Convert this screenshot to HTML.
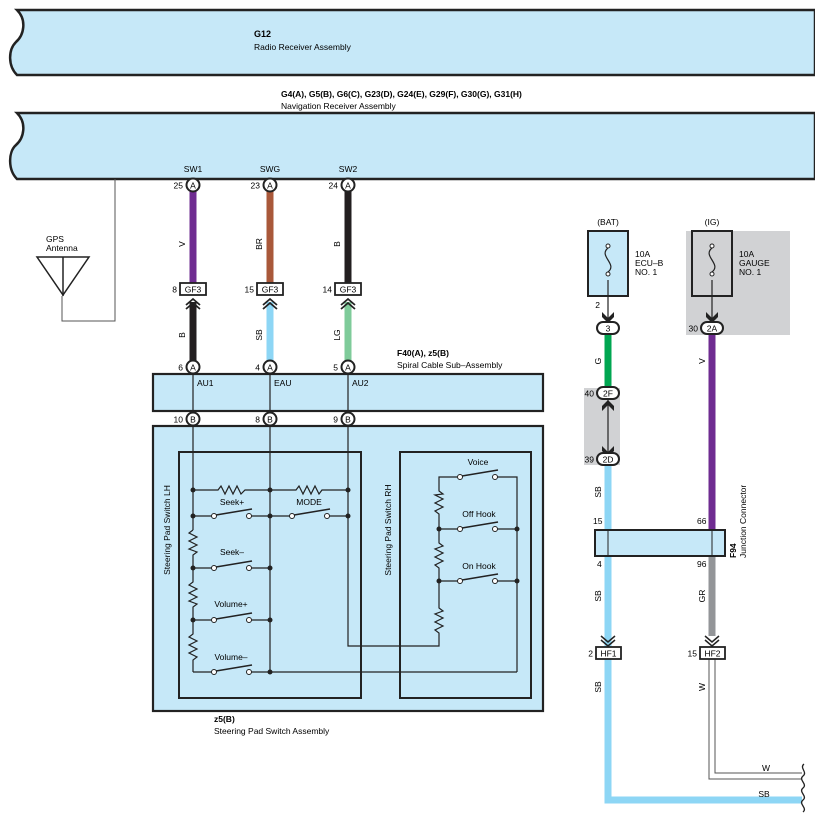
<!DOCTYPE html>
<html><head><meta charset="utf-8"><style>
html,body{margin:0;padding:0;background:#fff;}
svg{display:block;font-family:"Liberation Sans",Arial,sans-serif;}
</style></head><body>
<svg width="815" height="824" viewBox="0 0 815 824" xmlns="http://www.w3.org/2000/svg">
<!-- Top bars -->
<path d="M17,10 L815,10 L815,75 L17,75 C8,66 8,50 16,42 C24,35 27,20 17,10 Z" fill="#c6e8f8" stroke="#222" stroke-width="2.5"/>
<text x="254" y="37" font-size="9" font-weight="bold">G12</text>
<text x="254" y="50" font-size="8.5">Radio Receiver Assembly</text>
<text x="281" y="97" font-size="8.5" font-weight="bold">G4(A), G5(B), G6(C), G23(D), G24(E), G29(F), G30(G), G31(H)</text>
<text x="281" y="109" font-size="8.5">Navigation Receiver Assembly</text>
<path d="M17,113 L815,113 L815,179 L17,179 C8,170 8,152 16,145 C24,138 27,123 17,113 Z" fill="#c6e8f8" stroke="#222" stroke-width="2.5"/>

<!-- GPS antenna -->
<polyline points="115,179 115,321 62,321 62,296" fill="none" stroke="#555" stroke-width="1"/>
<polygon points="37,257 89,257 63,295" fill="none" stroke="#222" stroke-width="1.5"/>
<line x1="63" y1="257" x2="63" y2="296" stroke="#222" stroke-width="1.5"/>
<text x="46" y="242" font-size="8.5">GPS</text>
<text x="46" y="251" font-size="8.5">Antenna</text>

<!-- Wires upper -->
<text x="193" y="172" font-size="8.5" text-anchor="middle">SW1</text>
<text x="270" y="172" font-size="8.5" text-anchor="middle">SWG</text>
<text x="348" y="172" font-size="8.5" text-anchor="middle">SW2</text>
<line x1="193" y1="190" x2="193" y2="283" stroke="#6f2c91" stroke-width="7"/>
<line x1="270" y1="190" x2="270" y2="283" stroke="#a9583a" stroke-width="7"/>
<line x1="348" y1="190" x2="348" y2="283" stroke="#231f20" stroke-width="7"/>
<line x1="193" y1="302" x2="193" y2="362" stroke="#231f20" stroke-width="7"/>
<line x1="270" y1="302" x2="270" y2="362" stroke="#8dd6f5" stroke-width="7"/>
<line x1="348" y1="302" x2="348" y2="362" stroke="#7fcb9a" stroke-width="7"/>
<g font-size="8.5" text-anchor="middle">
<text transform="translate(185,244) rotate(-90)">V</text>
<text transform="translate(262,244) rotate(-90)">BR</text>
<text transform="translate(340,244) rotate(-90)">B</text>
<text transform="translate(185,335) rotate(-90)">B</text>
<text transform="translate(262,335) rotate(-90)">SB</text>
<text transform="translate(340,335) rotate(-90)">LG</text>
</g>
<g stroke="#222" stroke-width="1.8" fill="none">
<polyline points="186,305 193,299 200,305"/><polyline points="186,309 193,303 200,309"/>
<polyline points="263,305 270,299 277,305"/><polyline points="263,309 270,303 277,309"/>
<polyline points="341,305 348,299 355,305"/><polyline points="341,309 348,303 355,309"/>
</g>
<g font-size="8.5">
<rect x="180" y="283" width="26" height="12" fill="#fff" stroke="#222" stroke-width="1.8"/><text x="193" y="292.5" text-anchor="middle">GF3</text><text x="177" y="292.5" text-anchor="end">8</text>
<rect x="257" y="283" width="26" height="12" fill="#fff" stroke="#222" stroke-width="1.8"/><text x="270" y="292.5" text-anchor="middle">GF3</text><text x="254" y="292.5" text-anchor="end">15</text>
<rect x="335" y="283" width="26" height="12" fill="#fff" stroke="#222" stroke-width="1.8"/><text x="348" y="292.5" text-anchor="middle">GF3</text><text x="332" y="292.5" text-anchor="end">14</text>
</g>

<!-- Spiral cable -->
<rect x="153" y="374" width="390" height="37" fill="#c6e8f8" stroke="#222" stroke-width="2.2"/>
<text x="397" y="356" font-size="8.5" font-weight="bold">F40(A), z5(B)</text>
<text x="397" y="368" font-size="8.5">Spiral Cable Sub–Assembly</text>
<g font-size="8.5"><text x="197" y="386">AU1</text><text x="274" y="386">EAU</text><text x="352" y="386">AU2</text></g>

<!-- Steering pad -->
<rect x="153" y="426" width="390" height="285" fill="#c6e8f8" stroke="#222" stroke-width="2.2"/>
<rect x="179" y="452" width="182" height="246" fill="none" stroke="#222" stroke-width="2"/>
<rect x="400" y="452" width="131" height="246" fill="none" stroke="#222" stroke-width="2"/>
<text transform="translate(170,530) rotate(-90)" font-size="8.5" text-anchor="middle">Steering Pad Switch LH</text>
<text transform="translate(391,530) rotate(-90)" font-size="8.5" text-anchor="middle">Steering Pad Switch RH</text>
<text x="214" y="722" font-size="8.5" font-weight="bold">z5(B)</text>
<text x="214" y="734" font-size="8.5">Steering Pad Switch Assembly</text>

<g stroke="#222" stroke-width="1.2" fill="none">
<line x1="193" y1="367" x2="193" y2="530"/>
<polyline points="193,530 189,533 197,537 189,541 197,545 189,549 197,552 193,555 193,582 189,585 197,589 189,593 197,597 189,601 197,604 193,607 193,634 189,637 197,641 189,645 197,649 189,653 197,657 193,660 193,672"/>
<line x1="270" y1="367" x2="270" y2="672"/>
<polyline points="348,367 348,646 439,646 439,633 435,630 443,626 435,622 443,618 435,614 443,611 439,608 439,568 435,565 443,561 435,557 443,553 435,549 443,546 439,543 439,514 435,511 443,507 435,503 443,499 435,495 443,494 439,491 439,477 457,477"/>
<polyline points="193,490 218,490 221,486 225,494 229,486 233,494 237,486 241,494 245,490 270,490 296,490 299,486 303,494 307,486 311,494 315,486 319,494 322,490 348,490"/>
<line x1="193" y1="516" x2="211.5" y2="516"/><line x1="251.5" y1="516" x2="289.5" y2="516"/><line x1="329.5" y1="516" x2="348" y2="516"/>
<line x1="193" y1="568" x2="211.5" y2="568"/><line x1="251.5" y1="568" x2="270" y2="568"/>
<line x1="193" y1="620" x2="211.5" y2="620"/><line x1="251.5" y1="620" x2="270" y2="620"/>
<line x1="193" y1="672" x2="211.5" y2="672"/><line x1="251.5" y1="672" x2="517" y2="672"/>
<polyline points="497.5,477 517,477 517,672"/>
<line x1="439" y1="529" x2="457.5" y2="529"/><line x1="497.5" y1="529" x2="517" y2="529"/>
<line x1="439" y1="581" x2="457.5" y2="581"/><line x1="497.5" y1="581" x2="517" y2="581"/>
<line x1="216" y1="515" x2="252" y2="509" stroke-width="1.6"/>
<line x1="294" y1="515" x2="330" y2="509" stroke-width="1.6"/>
<line x1="216" y1="567" x2="252" y2="561" stroke-width="1.6"/>
<line x1="216" y1="619" x2="252" y2="613" stroke-width="1.6"/>
<line x1="216" y1="671" x2="252" y2="665" stroke-width="1.6"/>
<line x1="462" y1="476" x2="498" y2="470" stroke-width="1.6"/>
<line x1="462" y1="528" x2="498" y2="522" stroke-width="1.6"/>
<line x1="462" y1="580" x2="498" y2="574" stroke-width="1.6"/>
</g>
<g fill="#fff" stroke="#222" stroke-width="1">
<circle cx="214" cy="516" r="2.5"/><circle cx="249" cy="516" r="2.5"/>
<circle cx="292" cy="516" r="2.5"/><circle cx="327" cy="516" r="2.5"/>
<circle cx="214" cy="568" r="2.5"/><circle cx="249" cy="568" r="2.5"/>
<circle cx="214" cy="620" r="2.5"/><circle cx="249" cy="620" r="2.5"/>
<circle cx="214" cy="672" r="2.5"/><circle cx="249" cy="672" r="2.5"/>
<circle cx="460" cy="477" r="2.5"/><circle cx="495" cy="477" r="2.5"/>
<circle cx="460" cy="529" r="2.5"/><circle cx="495" cy="529" r="2.5"/>
<circle cx="460" cy="581" r="2.5"/><circle cx="495" cy="581" r="2.5"/>
</g>
<g fill="#222">
<circle cx="193" cy="490" r="2.5"/><circle cx="270" cy="490" r="2.5"/><circle cx="348" cy="490" r="2.5"/>
<circle cx="193" cy="516" r="2.5"/><circle cx="270" cy="516" r="2.5"/><circle cx="348" cy="516" r="2.5"/>
<circle cx="193" cy="568" r="2.5"/><circle cx="270" cy="568" r="2.5"/>
<circle cx="193" cy="620" r="2.5"/><circle cx="270" cy="620" r="2.5"/>
<circle cx="270" cy="672" r="2.5"/>
<circle cx="439" cy="529" r="2.5"/><circle cx="517" cy="529" r="2.5"/>
<circle cx="439" cy="581" r="2.5"/><circle cx="517" cy="581" r="2.5"/>
</g>
<g font-size="8.5" text-anchor="middle">
<text x="232" y="505">Seek+</text><text x="309" y="505">MODE</text>
<text x="232" y="555">Seek–</text><text x="231" y="607">Volume+</text><text x="231" y="660">Volume–</text>
<text x="478" y="465">Voice</text><text x="479" y="517">Off Hook</text><text x="479" y="569">On Hook</text>
</g>

<g font-size="8.5">
<g fill="#fff" stroke="#222" stroke-width="2">
<circle cx="193" cy="185" r="6.5"/><circle cx="270" cy="185" r="6.5"/><circle cx="348" cy="185" r="6.5"/>
<circle cx="193" cy="367" r="6.5"/><circle cx="270" cy="367" r="6.5"/><circle cx="348" cy="367" r="6.5"/>
<circle cx="193" cy="419" r="6.5"/><circle cx="270" cy="419" r="6.5"/><circle cx="348" cy="419" r="6.5"/>
</g>
<g text-anchor="middle">
<text x="193" y="188.5">A</text><text x="270" y="188.5">A</text><text x="348" y="188.5">A</text>
<text x="193" y="370.5">A</text><text x="270" y="370.5">A</text><text x="348" y="370.5">A</text>
<text x="193" y="422.5">B</text><text x="270" y="422.5">B</text><text x="348" y="422.5">B</text>
</g>
<g text-anchor="end">
<text x="183" y="188.5">25</text><text x="260" y="188.5">23</text><text x="338" y="188.5">24</text>
<text x="183" y="370.5">6</text><text x="260" y="370.5">4</text><text x="338" y="370.5">5</text>
<text x="183" y="422.5">10</text><text x="260" y="422.5">8</text><text x="338" y="422.5">9</text>
</g>
</g>

<!-- Right side -->
<rect x="686" y="231" width="104" height="104" fill="#d1d2d4"/>
<rect x="584" y="388" width="36" height="77" fill="#d1d2d4"/>
<text x="608" y="225" font-size="8.5" text-anchor="middle">(BAT)</text>
<text x="712" y="225" font-size="8.5" text-anchor="middle">(IG)</text>
<rect x="588" y="231" width="40" height="65" fill="#c6e8f8" stroke="#222" stroke-width="2"/>
<rect x="692" y="231" width="40" height="65" fill="#d1d2d4" stroke="#222" stroke-width="2"/>
<g stroke="#222" stroke-width="1.2" fill="none">
<path d="M608,248 C598,256 618,264 608,272"/>
<path d="M712,248 C702,256 722,264 712,272"/>
<line x1="608" y1="280" x2="608" y2="318"/><line x1="712" y1="280" x2="712" y2="318"/>
<line x1="608" y1="400" x2="608" y2="452"/>
</g>
<g fill="#fff" stroke="#222" stroke-width="1"><circle cx="608" cy="246" r="2"/><circle cx="608" cy="274" r="2"/><circle cx="712" cy="246" r="2"/><circle cx="712" cy="274" r="2"/></g>
<g font-size="8.5"><text x="635" y="257">10A</text><text x="635" y="266">ECU–B</text><text x="635" y="275">NO. 1</text>
<text x="739" y="257">10A</text><text x="739" y="266">GAUGE</text><text x="739" y="275">NO. 1</text></g>
<g fill="#222">
<path d="M602,312 L608,318 L614,312 L614,317 L608,323 L602,317Z"/>
<path d="M706,312 L712,318 L718,312 L718,317 L712,323 L706,317Z"/>
<path d="M602,406 L608,400 L614,406 L614,411 L608,405 L602,411Z"/>
<path d="M602,446 L608,452 L614,446 L614,451 L608,457 L602,451Z"/>
</g>
<text x="600" y="308" font-size="8.5" text-anchor="end">2</text>
<line x1="608" y1="335" x2="608" y2="387" stroke="#00a651" stroke-width="7"/>
<line x1="712" y1="335" x2="712" y2="530" stroke="#6f2c91" stroke-width="7"/>
<line x1="608" y1="465" x2="608" y2="530" stroke="#8dd6f5" stroke-width="7"/>
<line x1="608" y1="556" x2="608" y2="647" stroke="#8dd6f5" stroke-width="7"/>
<line x1="712" y1="556" x2="712" y2="636" stroke="#939598" stroke-width="7"/>
<polyline points="608,659 608,800 802,800" fill="none" stroke="#8dd6f5" stroke-width="7"/>
<g stroke="#555" stroke-width="1" fill="none">
<polyline points="709,659 709,779 802,779"/><polyline points="715,659 715,773 802,773"/>
</g>
<g stroke="#222" stroke-width="1.3" fill="none">
<path d="M804,764 C799,768 808,772 803,776 C798,780 808,784 803,788 C798,792 808,796 803,800 C798,804 808,808 803,812"/>
</g>
<g font-size="8.5" text-anchor="middle">
<text x="766" y="771">W</text><text x="764" y="797">SB</text>
<text transform="translate(601,361) rotate(-90)">G</text>
<text transform="translate(705,361) rotate(-90)">V</text>
<text transform="translate(601,492) rotate(-90)">SB</text>
<text transform="translate(601,596) rotate(-90)">SB</text>
<text transform="translate(705,596) rotate(-90)">GR</text>
<text transform="translate(601,687) rotate(-90)">SB</text>
<text transform="translate(705,687) rotate(-90)">W</text>
</g>
<g fill="#fff" stroke="#222" stroke-width="2">
<rect x="597" y="322" width="22" height="12" rx="6"/>
<rect x="701" y="322" width="22" height="12" rx="6"/>
<rect x="597" y="387" width="22" height="12" rx="6"/>
<rect x="597" y="453" width="22" height="12" rx="6"/>
</g>
<g font-size="8.5" text-anchor="middle"><text x="608" y="331.5">3</text><text x="712" y="331.5">2A</text><text x="608" y="396.5">2F</text><text x="608" y="462.5">2D</text></g>
<g font-size="8.5" text-anchor="end"><text x="698" y="331.5">30</text><text x="594" y="396.5">40</text><text x="594" y="462.5">39</text></g>
<rect x="595" y="530" width="130" height="26" fill="#c6e8f8" stroke="#222" stroke-width="2"/>
<line x1="608" y1="530" x2="608" y2="556" stroke="#222" stroke-width="1"/>
<line x1="712" y1="530" x2="712" y2="556" stroke="#222" stroke-width="1"/>
<g font-size="8.5"><text x="593" y="524">15</text><text x="697" y="524">66</text><text x="597" y="567">4</text><text x="697" y="567">96</text></g>
<text transform="translate(736,558) rotate(-90)" font-size="8.5" font-weight="bold">F94</text>
<text transform="translate(746,558) rotate(-90)" font-size="8.5">Junction Connector</text>
<g stroke="#222" stroke-width="1.5" fill="none">
<polyline points="601,636 608,642 615,636"/><polyline points="601,640 608,646 615,640"/>
<polyline points="705,636 712,642 719,636"/><polyline points="705,640 712,646 719,640"/>
</g>
<rect x="596" y="647" width="25" height="12" fill="#fff" stroke="#222" stroke-width="1.8"/>
<rect x="700" y="647" width="25" height="12" fill="#fff" stroke="#222" stroke-width="1.8"/>
<g font-size="8.5"><text x="608.5" y="656.5" text-anchor="middle">HF1</text><text x="712.5" y="656.5" text-anchor="middle">HF2</text>
<text x="593" y="656.5" text-anchor="end">2</text><text x="697" y="656.5" text-anchor="end">15</text></g>
</svg>
</body></html>
